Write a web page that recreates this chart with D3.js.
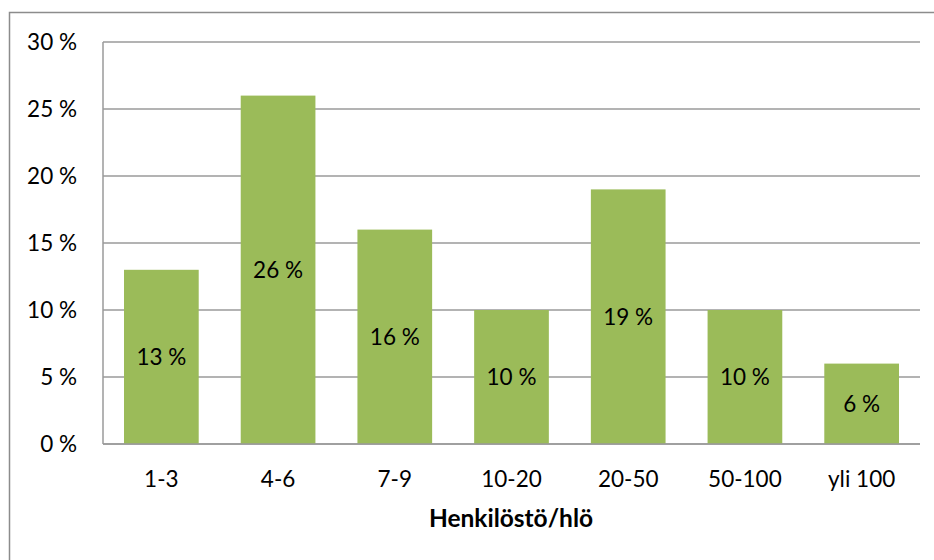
<!DOCTYPE html>
<html>
<head>
<meta charset="utf-8">
<script src="https://cdn.jsdelivr.net/npm/d3@7"></script>
<style>
  body { margin: 0; background: #fff; }
  text { font-family: Lato, "Open Sans", sans-serif; }
</style>
</head>
<body>
<script>
const categories = ["1-3", "4-6", "7-9", "10-20", "20-50", "50-100", "yli 100"];
const values = [13, 26, 16, 10, 19, 10, 6];
const yTicks = [0, 5, 10, 15, 20, 25, 30];
const axisTitle = "Henkilöstö/hlö";

const svg = d3.select("body").append("svg")
    .attr("width", 934)
    .attr("height", 560);

// outer chart frame
svg.append("rect")
    .attr("x", 9.5)
    .attr("y", 12.5)
    .attr("width", 940)
    .attr("height", 560)
    .attr("fill", "none")
    .attr("stroke", "#8c8c8c")
    .attr("stroke-width", 1.5);

const x = d3.scaleBand().domain(categories).range([103, 920]).paddingInner(0.36).paddingOuter(0.18);
const y = d3.scaleLinear().domain([0, 30]).range([444, 42]);

// gridlines
svg.append("g").selectAll("line")
    .data(yTicks)
    .join("line")
    .attr("x1", 103)
    .attr("x2", 920)
    .attr("y1", d => y(d))
    .attr("y2", d => y(d))
    .attr("stroke", "#9a9a9a")
    .attr("stroke-width", 1.5);

// y axis line
svg.append("line")
    .attr("x1", 103).attr("x2", 103)
    .attr("y1", y(30)).attr("y2", y(0))
    .attr("stroke", "#9a9a9a")
    .attr("stroke-width", 1.5);

// y labels
svg.append("g").selectAll("text")
    .data(yTicks)
    .join("text")
    .attr("x", 77)
    .attr("y", d => y(d) + 8)
    .attr("text-anchor", "end")
    .style("font-size", "22.5px")
    .text(d => d + " %");

// bars
svg.append("g").selectAll("rect")
    .data(values)
    .join("rect")
    .attr("x", (d, i) => x(categories[i]))
    .attr("y", d => y(d))
    .attr("width", x.bandwidth())
    .attr("height", d => y(0) - y(d))
    .attr("fill", "#9bbb59");

// redraw baseline over bars
svg.append("line")
    .attr("x1", 103).attr("x2", 920)
    .attr("y1", y(0)).attr("y2", y(0))
    .attr("stroke", "#9a9a9a")
    .attr("stroke-width", 1.5);

// data labels
svg.append("g").selectAll("text")
    .data(values)
    .join("text")
    .attr("x", (d, i) => x(categories[i]) + x.bandwidth() / 2)
    .attr("y", d => (y(d) + y(0)) / 2 + 8)
    .attr("text-anchor", "middle")
    .style("font-size", "22.5px")
    .text(d => d + " %");

// category labels
svg.append("g").selectAll("text")
    .data(categories)
    .join("text")
    .attr("x", d => x(d) + x.bandwidth() / 2)
    .attr("y", 487)
    .attr("text-anchor", "middle")
    .style("font-size", "22.5px")
    .text(d => d);

svg.append("text")
    .attr("x", 511)
    .attr("y", 527)
    .attr("text-anchor", "middle")
    .style("font-size", "24.5px")
    .style("font-weight", "bold")
    .text(axisTitle);
</script>
</body>
</html>
